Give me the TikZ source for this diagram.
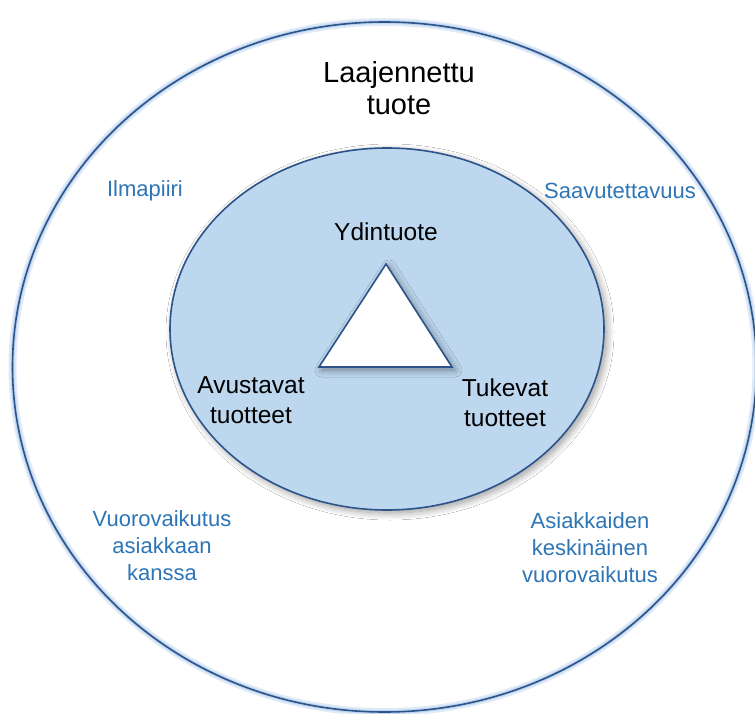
\documentclass[tikz,border=0pt]{standalone}
\usepackage{fontspec}
\setmainfont{Liberation Sans}
\usetikzlibrary{shadows.blur}
\definecolor{edgeblue}{RGB}{44,84,138}
\definecolor{fillblue}{RGB}{189,215,238}
\definecolor{textblue}{RGB}{46,117,182}
\definecolor{glowblue}{RGB}{170,200,235}
\begin{document}
\begin{tikzpicture}[x=1pt,y=-1pt,
  bluelabel/.style={text=textblue,font=\fontsize{22}{27}\selectfont,align=center,inner sep=0pt},
  blacklabel/.style={text=black,font=\fontsize{24.5}{30}\selectfont,align=center,inner sep=0pt},
  titlelabel/.style={text=black,font=\fontsize{29}{32}\selectfont,align=center,inner sep=0pt},
  outline/.style={draw=edgeblue,line width=1.6pt},
  softshadow/.style={blur shadow={shadow xshift=3pt,shadow yshift=-3pt,shadow blur radius=7pt,shadow blur steps=12,shadow opacity=40}}]
\useasboundingbox (0,0) rectangle (755,714);
\fill[white] (0,0) rectangle (755,714);
% outer ring with glow
\draw[glowblue,line width=8pt,opacity=0.35] (384.5,367) ellipse [x radius=372,y radius=345];
\draw[glowblue,line width=4pt,opacity=0.6] (384.5,367) ellipse [x radius=372,y radius=345];
\draw[outline] (384.5,367) ellipse [x radius=372,y radius=345];
% inner disc
\path[fill=fillblue,outline,softshadow] (387,329) ellipse [x radius=217,y radius=181];
% triangle
\coordinate (apex) at (386,264);
\coordinate (bl) at (319,367);
\coordinate (br) at (452,367);
\path[fill=white,outline,line join=miter,softshadow] (apex) -- (bl) -- (br) -- cycle;
% labels
\node[titlelabel] (laaj) at (399,88) {Laajennettu\\tuote};
\node[bluelabel] (ilma) at (145,191) {Ilmapiiri};
\node[bluelabel] (saav) at (620,191) {Saavutettavuus};
\node[blacklabel] (ydin) at (386,232) {Ydintuote};
\node[blacklabel] (avus) at (251,400) {Avustavat\\tuotteet};
\node[blacklabel] (tuke) at (505,403) {Tukevat\\tuotteet};
\node[bluelabel] (vuor) at (162,546) {Vuorovaikutus\\asiakkaan\\kanssa};
\node[bluelabel] (asia) at (590,548) {Asiakkaiden\\keskinäinen\\vuorovaikutus};
\end{tikzpicture}
\end{document}
